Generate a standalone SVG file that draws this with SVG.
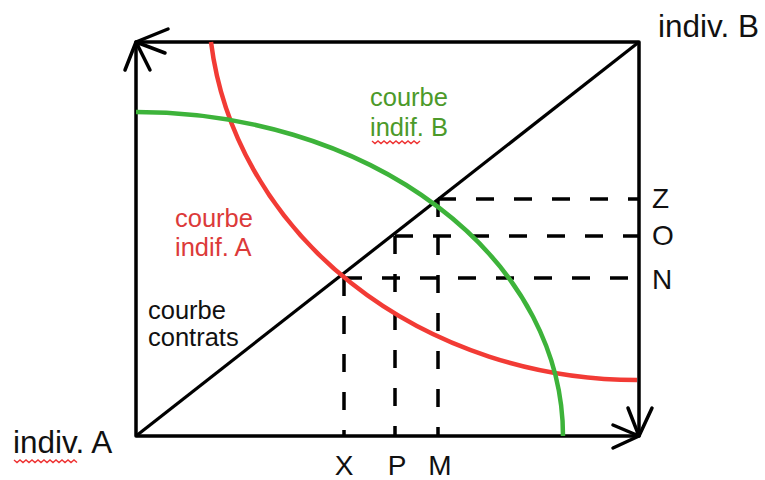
<svg xmlns="http://www.w3.org/2000/svg" width="765" height="480" viewBox="0 0 765 480">
<style>
.ax{fill:none;stroke:#000;stroke-width:3.5;stroke-linecap:round;stroke-linejoin:round}
.dash{fill:none;stroke:#000;stroke-width:3.5;stroke-dasharray:18 20}
.t{font-family:"Liberation Sans",Arial,sans-serif}
.big{font-size:31.5px;fill:#111}
.lab{font-size:28px;fill:#111}
.c{font-size:25.5px}
.sq{fill:none;stroke:#e33;stroke-width:1.4}
</style>
<rect width="765" height="480" fill="#fff"/>
<g id="frame">
<path class="ax" d="M136,436 V42 H639 V436 H136"/>
<path class="ax" d="M125,70 L136,42 L150,70 M168,29 L136,42 L165,53"/>
<path class="ax" d="M628,408 L639,436 L652,408 M613,425 L639,436 L613,448"/>
</g>
<g id="connectors">
<path class="dash" d="M438,199 H639 M395,236 H639 M344,278 H639"/>
<path class="dash" d="M344,278 V436 M395,236 V436 M438,199 V436"/>
</g>
<g id="courbe-contrats">
<line x1="136" y1="436" x2="639" y2="42" stroke="#000" stroke-width="3.2"/>
<text class="t c" x="148" y="319" fill="#111">courbe</text>
<text class="t c" x="148" y="346" fill="#111">contrats</text>
</g>
<g id="courbe-indif-A">
<path d="M211,42 A429,380 0 0 0 637,380" fill="none" stroke="#f23b35" stroke-width="4.5"/>
<text class="t c" x="175" y="227" fill="#dc3a3a">courbe</text>
<text class="t c" x="175" y="256" fill="#dc3a3a">indif. A</text>
</g>
<g id="courbe-indif-B">
<path d="M136,112 A427,324 0 0 1 563,436" fill="none" stroke="#3db33a" stroke-width="4.5"/>
<text class="t c" x="370" y="106" fill="#4c9a2a">courbe</text>
<text class="t c" x="370" y="136" fill="#4c9a2a">indif. B</text>
<path class="sq" d="M372,141 l3,2.5 l3,-2.5 l3,2.5 l3,-2.5 l3,2.5 l3,-2.5 l3,2.5 l3,-2.5 l3,2.5 l3,-2.5 l3,2.5 l3,-2.5 l3,2.5 l3,-2.5 l3,2.5 l3,-2.5"/>
</g>
<g id="indiv-A">
<text class="t big" x="13" y="453">indiv. A</text>
<path class="sq" d="M14,460 l3,2.5 l3,-2.5 l3,2.5 l3,-2.5 l3,2.5 l3,-2.5 l3,2.5 l3,-2.5 l3,2.5 l3,-2.5 l3,2.5 l3,-2.5 l3,2.5 l3,-2.5 l3,2.5 l3,-2.5 l3,2.5 l3,-2.5 l3,2.5 l3,-2.5 l3,2.5"/>
</g>
<g id="indiv-B">
<text class="t big" x="658" y="37">indiv. B</text>
</g>
<g id="labels">
<text class="t lab" x="652" y="208">Z</text>
<text class="t lab" x="652" y="245">O</text>
<text class="t lab" x="652" y="289">N</text>
<text class="t lab" x="344" y="475" text-anchor="middle">X</text>
<text class="t lab" x="397" y="475" text-anchor="middle">P</text>
<text class="t lab" x="440" y="475" text-anchor="middle">M</text>
</g>
</svg>
